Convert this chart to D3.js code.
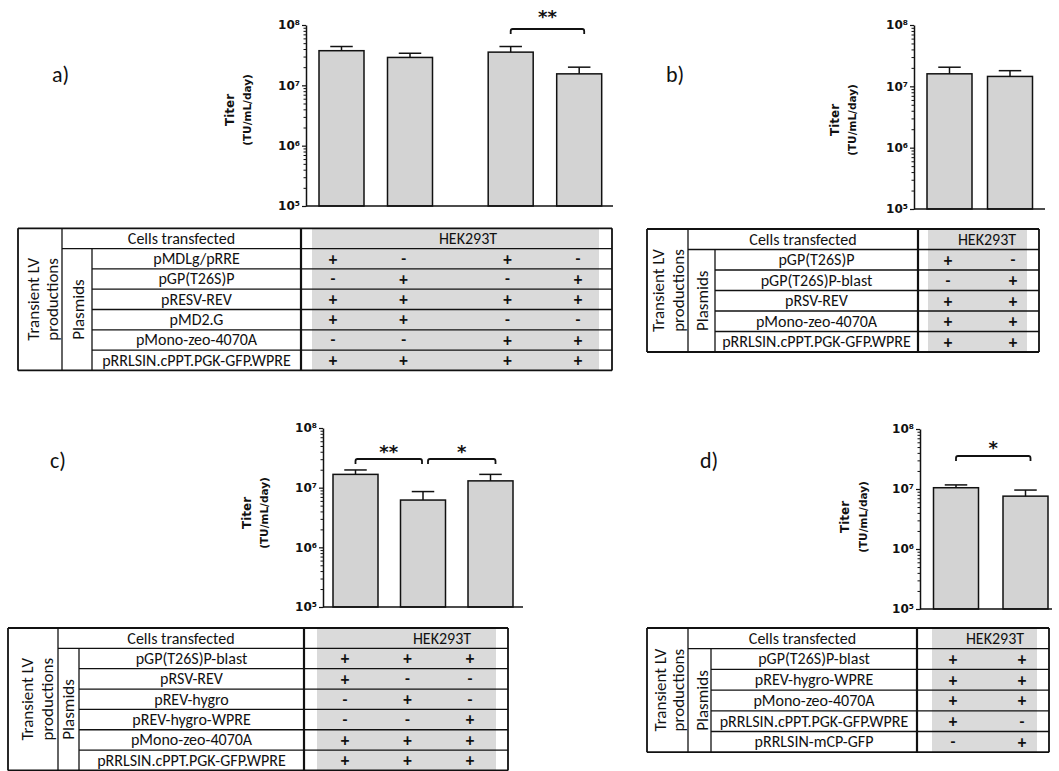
<!DOCTYPE html>
<html>
<head>
<meta charset="utf-8">
<script src="https://cdn.jsdelivr.net/npm/d3@7"></script>
<style>
  body { margin: 0; background: #fff; }
  svg { display: block; }
  .tbl text { font-family: Carlito, Lato, "Liberation Sans", sans-serif; font-size: 16px; fill: #111; }
  .chart text { font-family: "DejaVu Sans", Verdana, sans-serif; fill: #111; }
</style>
</head>
<body>
<svg id="fig" width="1059" height="771"></svg>
<script>
// ---------- shared axis / table text ----------
const yTickValues = [1e5, 1e6, 1e7, 1e8];
const yTickLabels = ["10⁵", "10⁶", "10⁷", "10⁸"];
const yTitle = "Titer";
const yUnit = "(TU/mL/day)";
const cellLine = "HEK293T";
const headerText = "Cells transfected";
const groupLines = ["Transient LV", "productions"];
const plasmidGroup = "Plasmids";

// ---------- panel a ----------
const aConditions = ["MDLg + MD2.G", "GP(T26S)P + MD2.G", "MDLg + Mono", "GP(T26S)P + Mono"];
const aTiter = [3.75e7, 2.9e7, 3.55e7, 1.55e7];
const aError = [0.65e7, 0.5e7, 0.85e7, 0.45e7];
const aPlasmids = ["pMDLg/pRRE", "pGP(T26S)P", "pRESV-REV", "pMD2.G", "pMono-zeo-4070A", "pRRLSIN.cPPT.PGK-GFP.WPRE"];
const aMatrix = [
  ["+", "-", "+", "-"],
  ["-", "+", "-", "+"],
  ["+", "+", "+", "+"],
  ["+", "+", "-", "-"],
  ["-", "-", "+", "+"],
  ["+", "+", "+", "+"]
];
const aSignif = [{ from: 2, to: 3, label: "**" }];

// ---------- panel b ----------
const bConditions = ["GP(T26S)P", "GP(T26S)P-blast"];
const bTiter = [1.6e7, 1.45e7];
const bError = [0.45e7, 0.35e7];
const bPlasmids = ["pGP(T26S)P", "pGP(T26S)P-blast", "pRSV-REV", "pMono-zeo-4070A", "pRRLSIN.cPPT.PGK-GFP.WPRE"];
const bMatrix = [
  ["+", "-"],
  ["-", "+"],
  ["+", "+"],
  ["+", "+"],
  ["+", "+"]
];
const bSignif = [];

// ---------- panel c ----------
const cConditions = ["RSV-REV", "REV-hygro", "REV-hygro-WPRE"];
const cTiter = [1.67e7, 6.2e6, 1.3e7];
const cError = [0.31e7, 0.24e7, 0.37e7];
const cPlasmids = ["pGP(T26S)P-blast", "pRSV-REV", "pREV-hygro", "pREV-hygro-WPRE", "pMono-zeo-4070A", "pRRLSIN.cPPT.PGK-GFP.WPRE"];
const cMatrix = [
  ["+", "+", "+"],
  ["+", "-", "-"],
  ["-", "+", "-"],
  ["-", "-", "+"],
  ["+", "+", "+"],
  ["+", "+", "+"]
];
const cSignif = [{ from: 0, to: 1, label: "**" }, { from: 1, to: 2, label: "*" }];

// ---------- panel d ----------
const dConditions = ["PGK-GFP.WPRE", "mCP-GFP"];
const dTiter = [1.05e7, 7.6e6];
const dError = [0.12e7, 0.2e7];
const dPlasmids = ["pGP(T26S)P-blast", "pREV-hygro-WPRE", "pMono-zeo-4070A", "pRRLSIN.cPPT.PGK-GFP.WPRE", "pRRLSIN-mCP-GFP"];
const dMatrix = [
  ["+", "+"],
  ["+", "+"],
  ["+", "+"],
  ["+", "-"],
  ["-", "+"]
];
const dSignif = [{ from: 0, to: 1, label: "*" }];

// ---------- page geometry ----------
const geometry = {
  a: {
    tag: { text: "a)", x: 52, y: 82 },
    chart: { x0: 306, x1: 613, top: 25, bottom: 206, first: 341.5, step: 68.5, barW: 45, gapAfter: 1, gap: 0.47,
             titleX: 234, unitX: 251, titleY: 110, brY: 29, starY: 23 },
    table: { top: 228.3, rowH: 20.3, left: 18, c1: 62, c2: 92, c3: 301, right: 612,
             grayL: 312, grayR: 599, hekX: 468, markFirst: 333, markLast: 578, rot: [33, 52], plasX: 78 }
  },
  b: {
    tag: { text: "b)", x: 666, y: 82 },
    chart: { x0: 914, x1: 1045, top: 25, bottom: 209, first: 949.5, step: 60.5, barW: 45,
             titleX: 839, unitX: 856, titleY: 120, brY: 0, starY: 0 },
    table: { top: 229, rowH: 20.5, left: 647, c1: 688, c2: 715, c3: 918, right: 1039,
             grayL: 928, grayR: 1027, hekX: 987, markFirst: 948, markLast: 1013, rot: [658, 678], plasX: 702 }
  },
  c: {
    tag: { text: "c)", x: 50, y: 468 },
    chart: { x0: 323, x1: 523, top: 428, bottom: 607, first: 355.5, step: 67.5, barW: 45,
             titleX: 251, unitX: 268, titleY: 513, brY: 459, starY: 458 },
    table: { top: 628, rowH: 20.35, left: 8, c1: 58, c2: 79, c3: 304, right: 508,
             grayL: 317, grayR: 496, hekX: 442, markFirst: 345, markLast: 470, rot: [27, 47], plasX: 68 }
  },
  d: {
    tag: { text: "d)", x: 700, y: 468 },
    chart: { x0: 920, x1: 1052, top: 429, bottom: 609, first: 956, step: 69.5, barW: 45,
             titleX: 849, unitX: 867, titleY: 517, brY: 456, starY: 454 },
    table: { top: 628, rowH: 20.7, left: 647, c1: 688, c2: 711, c3: 917, right: 1049,
             grayL: 932, grayR: 1037, hekX: 995, markFirst: 953, markLast: 1022, rot: [660, 678], plasX: 702 }
  }
};

const panels = [
  { key: "a", conditions: aConditions, titer: aTiter, error: aError, plasmids: aPlasmids, matrix: aMatrix, signif: aSignif },
  { key: "b", conditions: bConditions, titer: bTiter, error: bError, plasmids: bPlasmids, matrix: bMatrix, signif: bSignif },
  { key: "c", conditions: cConditions, titer: cTiter, error: cError, plasmids: cPlasmids, matrix: cMatrix, signif: cSignif },
  { key: "d", conditions: dConditions, titer: dTiter, error: dError, plasmids: dPlasmids, matrix: dMatrix, signif: dSignif }
];

const svg = d3.select("#fig");
const BAR_FILL = "#d3d3d3";
const GRAY_CELL = "#dadada";
const INK = "#111";

panels.forEach(p => {
  const G = geometry[p.key];
  const C = G.chart;
  const T = G.table;

  // panel tag
  svg.append("text")
    .attr("x", G.tag.x).attr("y", G.tag.y)
    .style("font-family", "Carlito, Lato, sans-serif").style("font-size", "22px").attr("fill", INK)
    .text(G.tag.text);

  // ---------- bar chart ----------
  const g = svg.append("g").attr("class", "chart");
  const y = d3.scaleLog().domain([1e5, 1e8]).range([C.bottom, C.top]);
  const slot = i => i + (C.gapAfter != null && i > C.gapAfter ? C.gap : 0);
  const x = d3.scaleLinear().domain([0, 1]).range([C.first, C.first + C.step]);
  const rows = p.conditions.map((c, i) => ({ c, i, v: p.titer[i], e: p.error[i], cx: x(slot(i)) }));

  // bars
  g.selectAll("rect.bar").data(rows).join("rect")
    .attr("class", "bar")
    .attr("x", d => d.cx - C.barW / 2)
    .attr("width", C.barW)
    .attr("y", d => y(d.v))
    .attr("height", d => C.bottom - y(d.v))
    .attr("fill", BAR_FILL).attr("stroke", INK).attr("stroke-width", 1.5);

  // error bars (upper only)
  g.selectAll("line.err").data(rows).join("line")
    .attr("class", "err")
    .attr("x1", d => d.cx).attr("x2", d => d.cx)
    .attr("y1", d => y(d.v)).attr("y2", d => y(d.v + d.e))
    .attr("stroke", INK).attr("stroke-width", 1.5);
  g.selectAll("line.cap").data(rows).join("line")
    .attr("class", "cap")
    .attr("x1", d => d.cx - C.barW / 4).attr("x2", d => d.cx + C.barW / 4)
    .attr("y1", d => y(d.v + d.e)).attr("y2", d => y(d.v + d.e))
    .attr("stroke", INK).attr("stroke-width", 1.5);

  // baseline
  g.append("line")
    .attr("x1", C.x0).attr("x2", C.x1).attr("y1", C.bottom).attr("y2", C.bottom)
    .attr("stroke", INK).attr("stroke-width", 1.5);

  // y axis: decades + minor ticks
  const major = d3.axisLeft(y).tickValues(yTickValues)
    .tickFormat((d, i) => yTickLabels[i]).tickSize(4).tickSizeOuter(0).tickPadding(2);
  const ag = g.append("g").attr("transform", `translate(${C.x0},0)`).call(major);
  ag.select(".domain").attr("stroke", INK).attr("stroke-width", 1.5);
  ag.selectAll(".tick line").attr("stroke", INK).attr("stroke-width", 1.2);
  ag.selectAll(".tick text")
    .style("font-family", "'DejaVu Sans', Verdana, sans-serif")
    .style("font-size", "12px").style("font-weight", "bold").attr("fill", INK);

  const minorVals = y.ticks().filter(v => !yTickValues.includes(v));
  const minor = d3.axisLeft(y).tickValues(minorVals).tickFormat("").tickSize(2.5).tickSizeOuter(0);
  const mg = g.append("g").attr("transform", `translate(${C.x0},0)`).call(minor);
  mg.select(".domain").remove();
  mg.selectAll(".tick line").attr("stroke", INK).attr("stroke-width", 1);

  // axis title
  g.append("text")
    .attr("transform", `translate(${C.titleX},${C.titleY}) rotate(-90)`)
    .attr("text-anchor", "middle")
    .style("font-size", "12px").style("font-weight", "bold")
    .text(yTitle);
  g.append("text")
    .attr("transform", `translate(${C.unitX},${C.titleY}) rotate(-90)`)
    .attr("text-anchor", "middle")
    .style("font-size", "10.5px").style("font-weight", "bold")
    .text(yUnit);

  // significance brackets
  p.signif.forEach(s => {
    const xa = rows[s.from].cx + (s.from > 0 && p.signif.length > 1 ? 5 : 0);
    const xb = rows[s.to].cx + (p.signif.length > 1 && s.to < rows.length - 1 ? -1 : 5);
    const by = C.brY;
    g.append("path")
      .attr("d", `M${xa},${by + 5} L${xa},${by + 2} Q${xa},${by} ${xa + 2},${by} L${xb - 2},${by} Q${xb},${by} ${xb},${by + 2} L${xb},${by + 5}`)
      .attr("fill", "none").attr("stroke", INK).attr("stroke-width", 1.8);
    g.append("text")
      .attr("x", (xa + xb) / 2).attr("y", C.starY)
      .attr("text-anchor", "middle")
      .style("font-size", "18px").style("font-weight", "bold")
      .text(s.label);
  });

  // ---------- condition table ----------
  const t = svg.append("g").attr("class", "tbl");
  const nRows = p.plasmids.length + 1;
  const rowY = i => T.top + i * T.rowH;
  const bottom = rowY(nRows);
  const mx = d3.scaleLinear().domain([0, slot(p.conditions.length - 1)]).range([T.markFirst, T.markLast]);

  t.append("rect")
    .attr("x", T.grayL).attr("y", T.top).attr("width", T.grayR - T.grayL).attr("height", bottom - T.top)
    .attr("fill", GRAY_CELL);

  // horizontal rules
  const hl = d3.range(0, nRows + 1).map(i => ({ i, x1: i === 0 || i === nRows ? T.left : (i === 1 ? T.c1 : T.c2) }));
  t.selectAll("line.h").data(hl).join("line")
    .attr("x1", d => d.x1).attr("x2", T.right)
    .attr("y1", d => rowY(d.i)).attr("y2", d => rowY(d.i))
    .attr("stroke", INK).attr("stroke-width", d => (d.i === 0 || d.i === nRows) ? 1.8 : 1.3);

  // vertical rules
  const vl = [
    { x: T.left, y1: T.top, w: 1.8 },
    { x: T.c1, y1: T.top, w: 1.3 },
    { x: T.c2, y1: rowY(1), w: 1.3 },
    { x: T.c3, y1: T.top, w: 2.2 },
    { x: T.right, y1: T.top, w: 1.8 }
  ];
  t.selectAll("line.v").data(vl).join("line")
    .attr("x1", d => d.x).attr("x2", d => d.x)
    .attr("y1", d => d.y1).attr("y2", bottom)
    .attr("stroke", INK).attr("stroke-width", d => d.w);

  // header row
  t.append("text")
    .attr("x", (T.c1 + T.c3) / 2).attr("y", rowY(0) + T.rowH / 2)
    .attr("dy", "0.34em").attr("text-anchor", "middle").text(headerText);
  t.append("text")
    .attr("x", T.hekX).attr("y", rowY(0) + T.rowH / 2)
    .attr("dy", "0.34em").attr("text-anchor", "middle").text(cellLine);

  // plasmid names
  t.selectAll("text.pl").data(p.plasmids).join("text")
    .attr("class", "pl")
    .attr("x", (T.c2 + T.c3) / 2)
    .attr("y", (d, i) => rowY(i + 1) + T.rowH / 2)
    .attr("dy", "0.34em").attr("text-anchor", "middle")
    .text(d => d)
    .each(function () {
      const room = T.c3 - T.c2 - 5;
      if (this.getComputedTextLength() > room) {
        d3.select(this).attr("textLength", room).attr("lengthAdjust", "spacingAndGlyphs");
      }
    });

  // +/- marks
  const marks = [];
  p.matrix.forEach((row, r) => row.forEach((m, k) => marks.push({ r, k, m })));
  t.selectAll("text.mk").data(marks).join("text")
    .attr("class", "mk")
    .attr("x", d => mx(slot(d.k)))
    .attr("y", d => rowY(d.r + 1) + T.rowH / 2)
    .attr("dy", "0.34em").attr("text-anchor", "middle")
    .style("font-size", d => d.m === "+" ? "17px" : "16px")
    .style("font-weight", "bold")
    .text(d => d.m);

  // rotated group labels
  const midAll = (T.top + bottom) / 2;
  groupLines.forEach((line, i) => {
    t.append("text")
      .attr("transform", `translate(${T.rot[i]},${midAll}) rotate(-90)`)
      .attr("dy", "0.34em").attr("text-anchor", "middle")
      .style("font-size", "17px")
      .text(line);
  });
  t.append("text")
    .attr("transform", `translate(${T.plasX},${(rowY(1) + bottom) / 2}) rotate(-90)`)
    .attr("dy", "0.34em").attr("text-anchor", "middle")
    .style("font-size", "17px")
    .text(plasmidGroup);
});
</script>
</body>
</html>
